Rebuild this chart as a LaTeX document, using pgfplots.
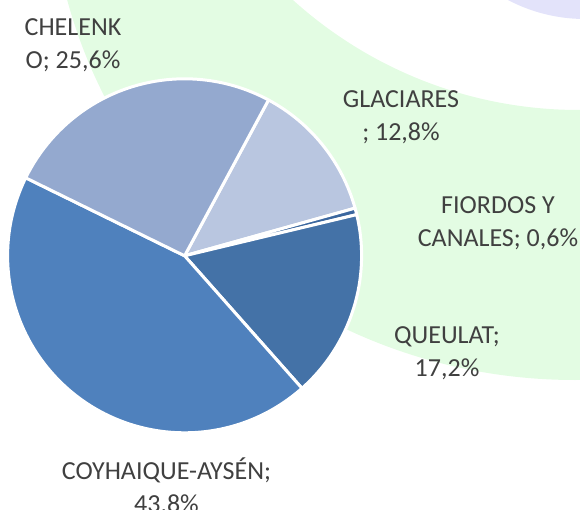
\documentclass[border=0pt]{standalone}
\usepackage{pgfplots}
\pgfplotsset{compat=1.18}
\usepackage{fontspec}
\setmainfont{Carlito}
\definecolor{cChel}{HTML}{94A9CF}
\definecolor{cGlac}{HTML}{B9C6E0}
\definecolor{cFior}{HTML}{3B679F}
\definecolor{cQueu}{HTML}{4472A7}
\definecolor{cCoyh}{HTML}{4F81BD}
\definecolor{bgGreen}{HTML}{E3FCE3}
\definecolor{bgLav}{HTML}{E3E3FA}
\definecolor{txt}{HTML}{404040}
% slice: colour, cumulative percentage before slice, percentage
\newcommand\slice[3]{%
  \fill[#1, draw=white, line width=3pt, line join=round]
    (axis cs:184.6,255.8) -- ++({61.7-3.6*#2}:177pt)
    arc[start angle={61.7-3.6*#2}, delta angle={-3.6*#3}, radius=177pt] -- cycle;}
\begin{document}
\begin{tikzpicture}
\begin{axis}[at={(0,0)}, anchor=south west, width=580pt, height=510pt,
  scale only axis, xmin=0, xmax=580, ymin=0, ymax=510, y dir=reverse,
  hide axis, clip=true]
% background decoration
\fill[bgGreen, even odd rule] (axis cs:575,-130) ellipse[x radius=525pt, y radius=510pt]
   (axis cs:579,-317) circle[radius=427pt];
\fill[bgLav] (axis cs:585,-146.5) circle[radius=165.5pt];
% pie slices (percentages)
\slice{cGlac}{0}{12.8}
\slice{cFior}{12.8}{0.6}
\slice{cQueu}{13.4}{17.2}
\slice{cCoyh}{30.6}{43.8}
\slice{cChel}{74.4}{25.6}
% labels
\begin{scope}[every node/.style={text=txt, align=center, font=\fontsize{26}{33}\selectfont}]
\node at (axis cs:73,45) {CHELENK\\O; 25,6\%};
\node at (axis cs:401,117) {GLACIARES\\; 12,8\%};
\node at (axis cs:498,223) {FIORDOS Y\\CANALES; 0,6\%};
\node at (axis cs:447,353) {QUEULAT;\\17,2\%};
\node at (axis cs:166.5,487) {COYHAIQUE-AYSÉN;\\43,8\%};
\end{scope}
\end{axis}
\pgfresetboundingbox
\useasboundingbox (0,0) rectangle (580pt,510pt);
\end{tikzpicture}
\end{document}
